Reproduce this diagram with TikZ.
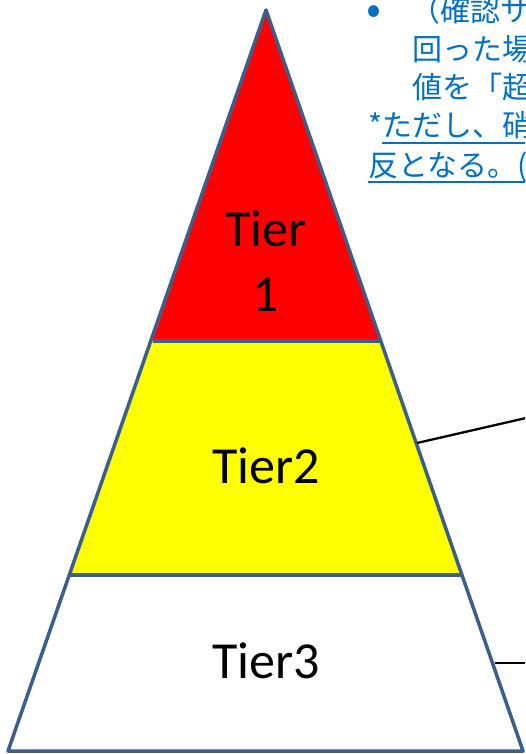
\documentclass[tikz,border=0pt]{standalone}
\usepackage{fontspec}
\setmainfont{Carlito}
\newfontfamily\cjk{Noto Sans CJK JP}
\definecolor{edge}{HTML}{3B5E8C}
\definecolor{txtblue}{HTML}{0070C0}
\definecolor{tierred}{HTML}{FF0000}
\definecolor{tieryellow}{HTML}{FFFF00}
\begin{document}
\begin{tikzpicture}[x=1pt,y=-1pt,
  tierlbl/.style={inner sep=0pt,anchor=base,font=\fontsize{52}{62}\selectfont},
  jtext/.style={inner sep=0pt,anchor=base west,text=txtblue,font=\cjk\fontsize{30}{38}\selectfont},
  tieredge/.style={draw=edge,line width=3.5pt,line join=round},
  link/.style={draw=black,line width=2.3pt},
  uline/.style={draw=txtblue,line width=1.6pt}]
\useasboundingbox (0,0) rectangle (525,754);
\clip (0,0) rectangle (525,754);
% pyramid coordinates
\coordinate (apex) at (266,10);
\coordinate (l1) at (152.5,341);
\coordinate (r1) at (380,341);
\coordinate (l2) at (70,575);
\coordinate (r2) at (461.5,575);
\coordinate (bl) at (8,751);
\coordinate (br) at (523,751);
\fill[tierred] (apex) -- (r1) -- (l1) -- cycle;
\fill[tieryellow] (l1) -- (r1) -- (r2) -- (l2) -- cycle;
\fill[white] (l2) -- (r2) -- (br) -- (bl) -- cycle;
\draw[tieredge] (l1) -- (r1);
\draw[tieredge] (l2) -- (r2);
\draw[tieredge] (apex) -- (br) -- (bl) -- cycle;
% labels
\node[tierlbl] (t1a) at (266,246.5) {Tier};
\node[tierlbl] (t1b) at (266,311.5) {1};
\node[tierlbl] (t2) at (266,483.5) {Tier2};
\node[tierlbl] (t3) at (266,678.5) {Tier3};
% connectors
\coordinate (c2a) at (417,443);
\coordinate (c2b) at (526,418);
\coordinate (c3a) at (495,663);
\coordinate (c3b) at (526,663);
\draw[link] (c2a) -- (c2b);
\draw[link] (c3a) -- (c3b);
% text block
\node[jtext,font=\cjk\fontsize{44}{44}\selectfont] (bul) at (366,25) {•};
\node[jtext] (j1) at (410,22) {（確認サ};
\node[jtext] (j2) at (412,61) {回った場};
\node[jtext] (j3) at (412,99) {値を「超};
\node[jtext] (j4s) at (368,137) {*};
\node[jtext,anchor=base west] (j4) at (j4s.base east) {ただし、硝};
\node[jtext] (j5) at (368,176) {反となる。(};
\draw[uline] ([yshift=-6pt]j4.base west) -- ([yshift=-6pt]j4.base east);
\draw[uline] ([yshift=-6pt]j5.base west) -- ([yshift=-6pt]j5.base east);
\end{tikzpicture}
\end{document}
